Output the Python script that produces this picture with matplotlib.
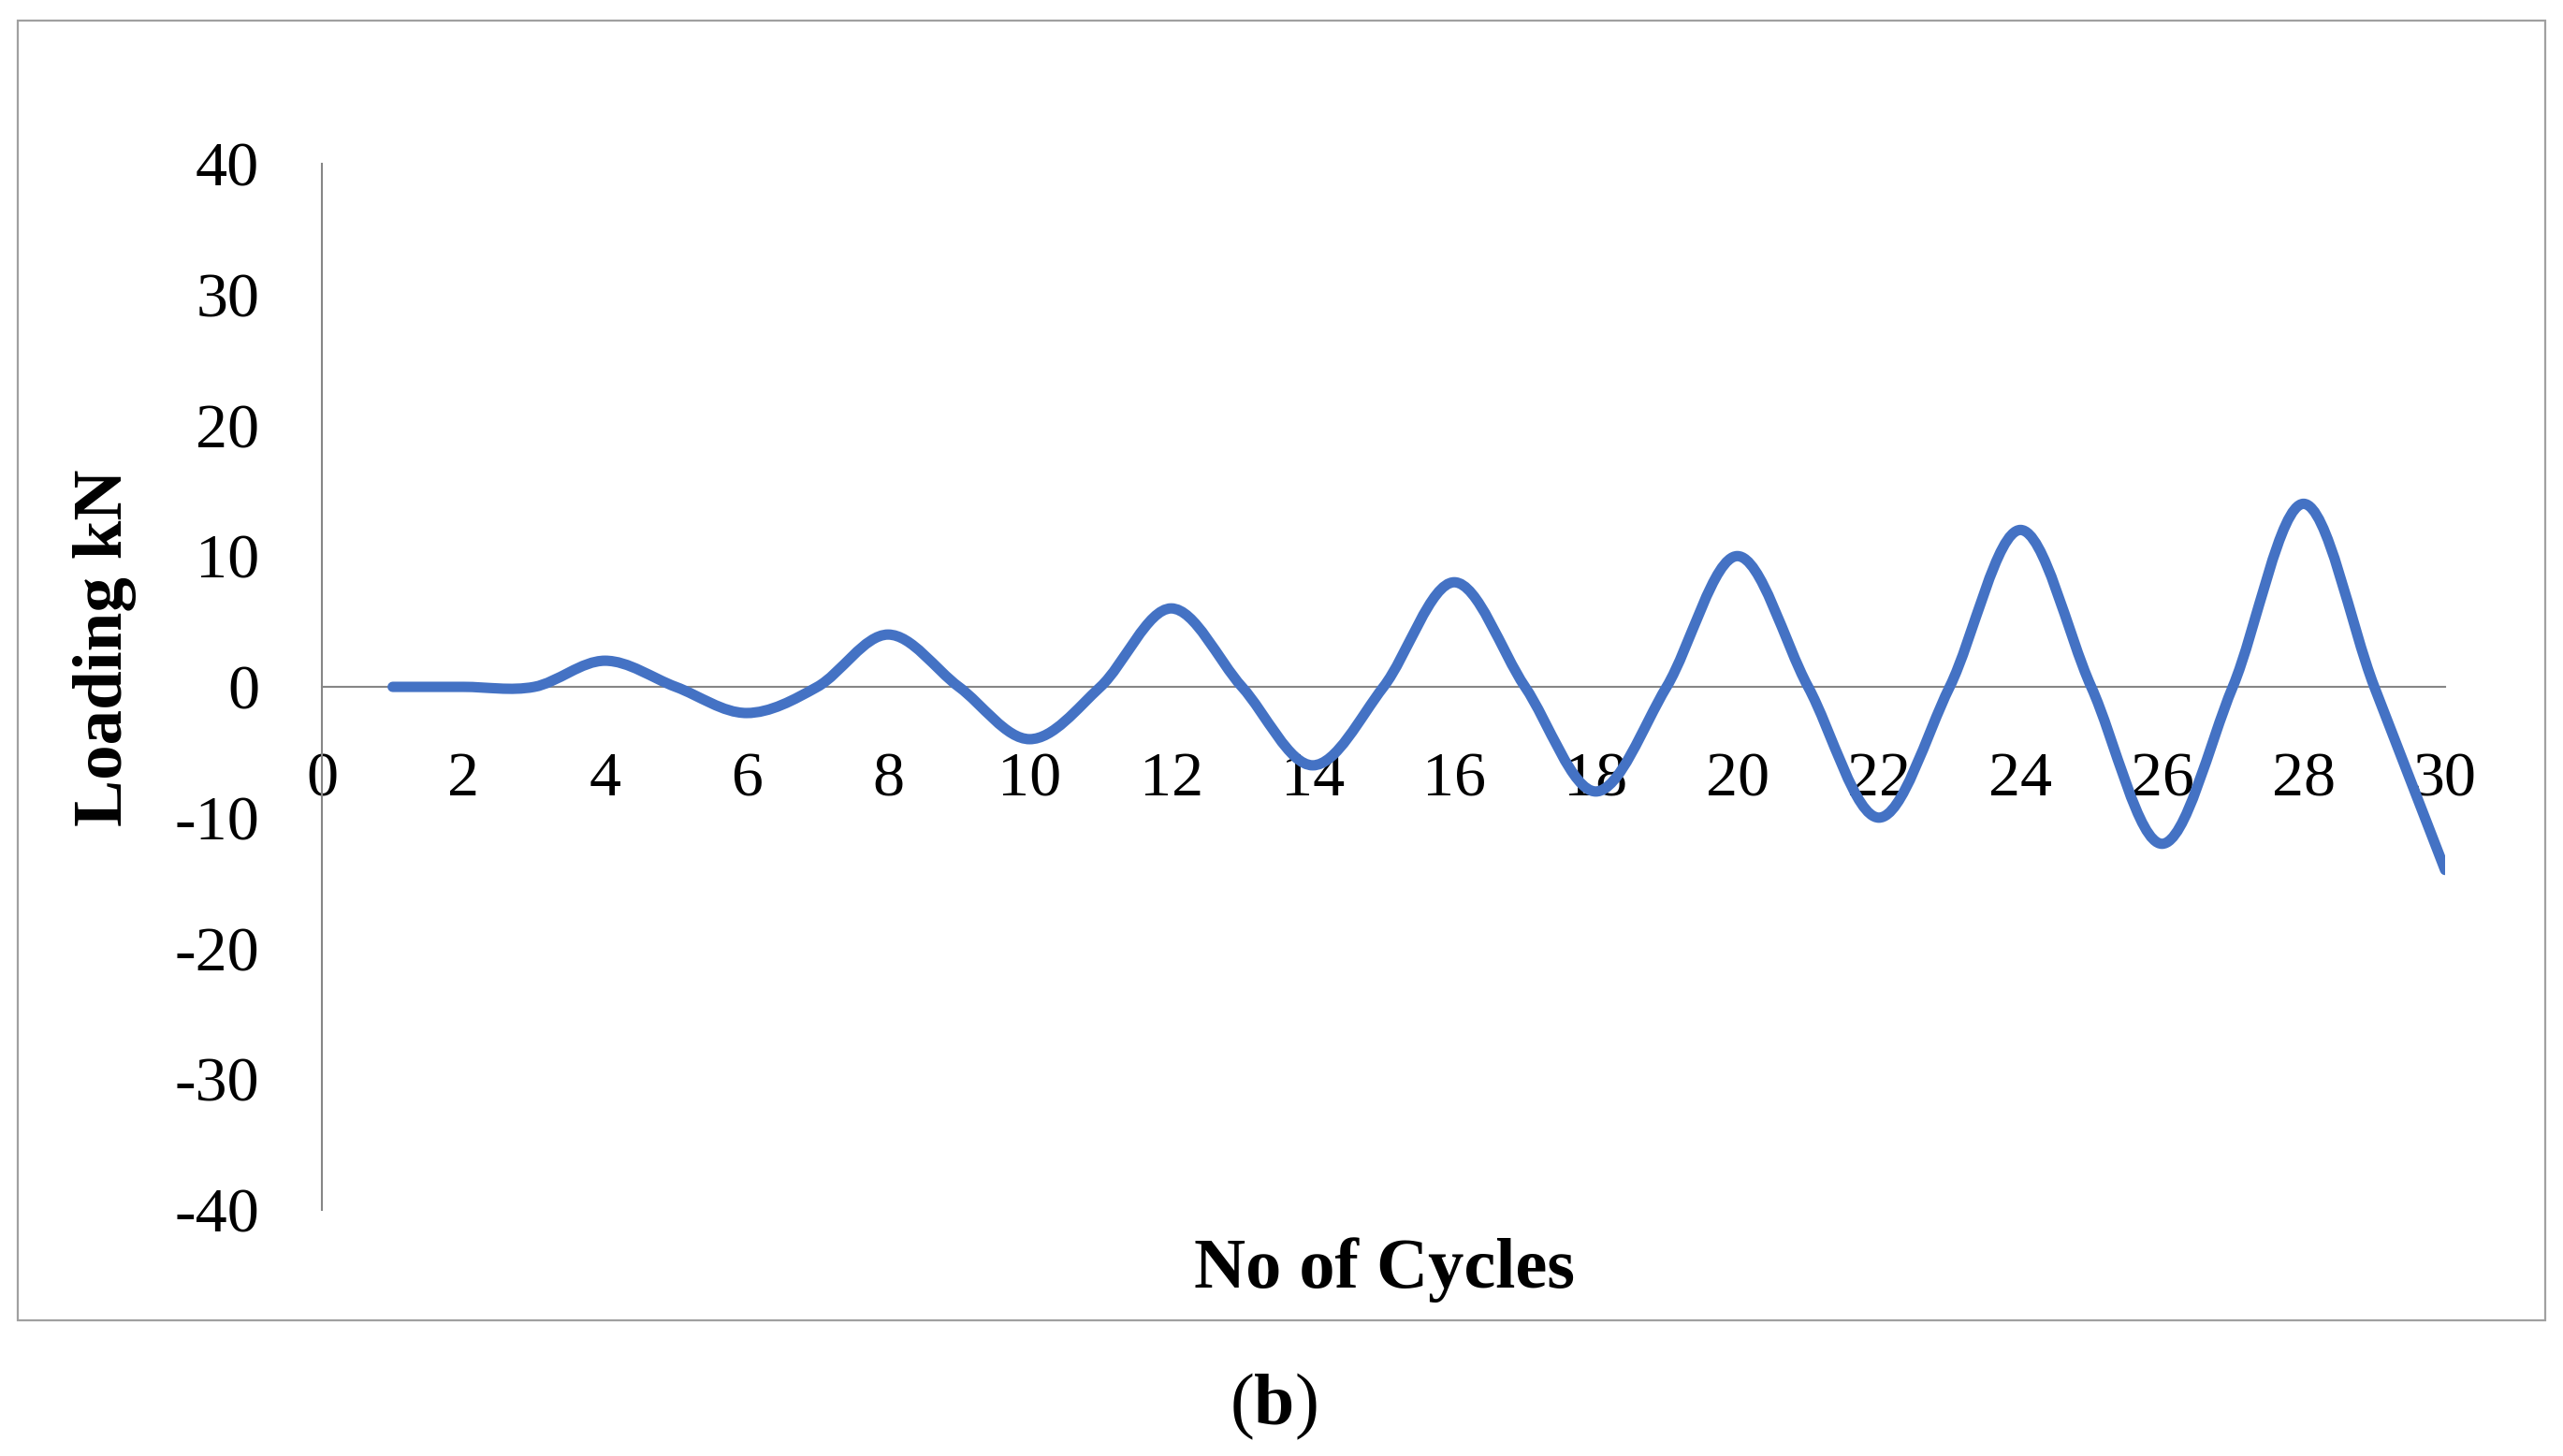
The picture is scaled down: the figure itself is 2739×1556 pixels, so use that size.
import numpy as np
import matplotlib
matplotlib.use("Agg")
import matplotlib.pyplot as plt
from matplotlib.path import Path
from matplotlib.patches import PathPatch, Rectangle

# cycle number and load (kN)
cycles = list(range(1, 31))
loading = [0, 0, 0, 2, 0, -2, 0, 4, 0, -4,
           0, 6, 0, -6, 0, 8, 0, -8, 0, 10,
           0, -10, 0, 12, 0, -12, 0, 14, 0, -14]

x_ticks = list(range(0, 31, 2))
y_ticks = list(range(-40, 41, 10))

plt.rcParams["font.family"] = ["Liberation Serif", "DejaVu Serif"]
plt.rcParams["axes.unicode_minus"] = False
plt.rcParams["mathtext.fontset"] = "custom"
plt.rcParams["mathtext.rm"] = "Liberation Serif"
plt.rcParams["mathtext.bf"] = "Liberation Serif:bold"

fig = plt.figure(figsize=(27.39, 15.56), dpi=100)

# grey chart frame
fig.patches.append(Rectangle((0.007, 0.093), 0.986, 0.893, transform=fig.transFigure,
                             fill=False, edgecolor="#a0a0a0", linewidth=1.6))

ax = fig.add_axes([0.1256, 0.169, 0.8284, 0.7185])
ax.set_xlim(0, 30)
ax.set_ylim(-40, 40)

# excel style smoothed line: cubic bezier segments through the data points
pts = np.column_stack([cycles, loading]).astype(float)
verts = [pts[0]]
codes = [Path.MOVETO]
n = len(pts)
for i in range(n - 1):
    p_prev = pts[i - 1] if i > 0 else pts[i]
    p_next2 = pts[i + 2] if i + 2 < n else pts[i + 1]
    c1 = pts[i] + (pts[i + 1] - p_prev) / 6
    c2 = pts[i + 1] - (p_next2 - pts[i]) / 6
    verts += [c1, c2, pts[i + 1]]
    codes += [Path.CURVE4] * 3
ax.add_patch(PathPatch(Path(verts, codes), facecolor="none", edgecolor="#4472C4",
                       linewidth=8, capstyle="round", joinstyle="round", zorder=3))

for s in ["top", "right"]:
    ax.spines[s].set_visible(False)
ax.spines["bottom"].set_position(("data", 0))
ax.spines["left"].set_position(("data", 0))
for s in ["bottom", "left"]:
    ax.spines[s].set_color("#868686")
    ax.spines[s].set_linewidth(1.5)

ax.set_xticks(x_ticks)
ax.set_yticks(y_ticks)
ax.tick_params(axis="x", length=0, pad=50, labelsize=49)
ax.tick_params(axis="y", length=0, pad=48, labelsize=49)
ax.patch.set_visible(False)

fig.text(0.041, 0.555, "Loading kN", rotation=90, ha="center", va="center",
         fontsize=54, fontweight="bold")
fig.text(0.54, 0.128, "No of Cycles", ha="center", va="center",
         fontsize=55, fontweight="bold")

# caption (b)
fig.text(0.4968, 0.034, r"($\mathbf{b}$)", ha="center", va="center", fontsize=56)

fig.savefig("out.png", dpi=100)
